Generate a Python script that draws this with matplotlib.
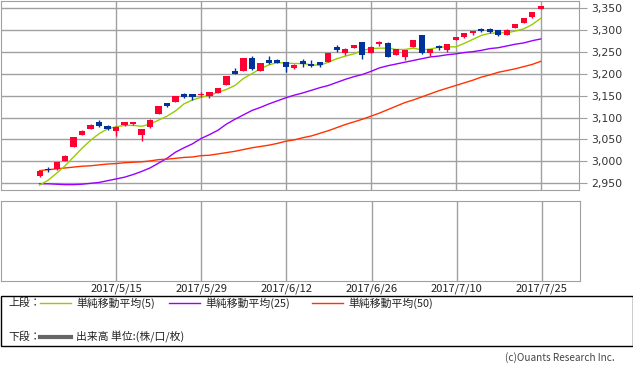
import matplotlib
matplotlib.use("Agg")
import matplotlib.pyplot as plt
from matplotlib.lines import Line2D
from matplotlib.patches import Rectangle
from matplotlib.ticker import FuncFormatter
import pandas as pd

plt.rcParams['font.family'] = ['Noto Sans CJK JP', 'DejaVu Sans']

# trading days (Japan holidays removed)
holidays = ['2017-05-03', '2017-05-04', '2017-05-05', '2017-07-17']
dates = pd.bdate_range('2017-04-27', '2017-07-25', freq='C', holidays=holidays)

opens = [2967, 2983, 2982, 3001, 3033, 3061, 3074, 3090, 3080, 3070,
         3082, 3085, 3059, 3079, 3108, 3132, 3136, 3153, 3153, 3151,
         3150, 3156, 3173, 3205, 3205, 3236, 3205, 3230, 3230, 3226,
         3213, 3228, 3223, 3226, 3226, 3261, 3248, 3258, 3271, 3246,
         3267, 3269, 3242, 3238, 3260, 3288, 3246, 3262, 3253, 3276,
         3283, 3292, 3301, 3301, 3300, 3288, 3303, 3315, 3329, 3347]
highs = [2979, 2987, 2999, 3014, 3055, 3071, 3085, 3094, 3083, 3080,
         3090, 3090, 3074, 3096, 3126, 3133, 3149, 3156, 3154, 3157,
         3158, 3168, 3194, 3213, 3235, 3239, 3224, 3239, 3234, 3226,
         3222, 3233, 3232, 3226, 3247, 3266, 3258, 3265, 3272, 3262,
         3275, 3271, 3255, 3253, 3276, 3288, 3255, 3266, 3268, 3284,
         3292, 3298, 3303, 3303, 3300, 3301, 3314, 3327, 3341, 3353]
lows = [2964, 2976, 2981, 3000, 3033, 3060, 3074, 3079, 3072, 3058,
        3081, 3082, 3047, 3076, 3108, 3124, 3135, 3145, 3139, 3147,
        3145, 3156, 3173, 3198, 3205, 3209, 3205, 3223, 3224, 3203,
        3210, 3215, 3215, 3215, 3226, 3250, 3243, 3258, 3233, 3246,
        3264, 3238, 3242, 3230, 3260, 3245, 3241, 3253, 3250, 3276,
        3281, 3289, 3294, 3292, 3286, 3288, 3303, 3315, 3326, 3347]
closes = [2978, 2980, 2998, 3013, 3055, 3069, 3084, 3081, 3074, 3079,
          3089, 3089, 3073, 3095, 3126, 3127, 3148, 3147, 3147, 3154,
          3158, 3168, 3194, 3200, 3235, 3211, 3224, 3224, 3225, 3214,
          3219, 3221, 3218, 3219, 3247, 3253, 3255, 3265, 3242, 3260,
          3273, 3238, 3255, 3253, 3276, 3247, 3255, 3259, 3267, 3283,
          3292, 3296, 3297, 3294, 3288, 3300, 3312, 3327, 3341, 3353]

ma5 = [2946, 2957, 2973, 2990, 3010, 3030, 3048, 3063, 3074, 3079,
       3082, 3082, 3080, 3085, 3094, 3103, 3115, 3131, 3140, 3146,
       3151, 3157, 3164, 3173, 3189, 3200, 3211, 3220, 3225, 3224,
       3223, 3223, 3220, 3219, 3226, 3234, 3240, 3245, 3253, 3257,
       3258, 3258, 3255, 3255, 3258, 3254, 3256, 3260, 3261, 3261,
       3269, 3278, 3287, 3292, 3293, 3293, 3297, 3302, 3312, 3326]
ma25 = [2949, 2949, 2948, 2947, 2947, 2948, 2950, 2952, 2956, 2960,
        2964, 2970, 2977, 2985, 2996, 3007, 3021, 3031, 3040, 3052,
        3061, 3071, 3085, 3096, 3106, 3116, 3123, 3131, 3138, 3145,
        3151, 3156, 3162, 3168, 3173, 3180, 3187, 3193, 3198, 3205,
        3213, 3218, 3222, 3226, 3230, 3234, 3238, 3240, 3243, 3245,
        3248, 3250, 3253, 3257, 3259, 3263, 3267, 3270, 3275, 3279]
ma50 = [2979, 2981, 2983, 2985, 2987, 2989, 2990, 2992, 2994, 2995,
        2997, 2998, 2999, 3001, 3004, 3005, 3007, 3009, 3010, 3013,
        3014, 3017, 3020, 3023, 3027, 3031, 3034, 3037, 3041, 3046,
        3049, 3054, 3058, 3064, 3070, 3077, 3084, 3090, 3096, 3103,
        3110, 3118, 3126, 3134, 3140, 3147, 3154, 3161, 3167, 3173,
        3179, 3185, 3192, 3197, 3203, 3207, 3211, 3216, 3221, 3228]

tick_dates = ['2017-05-15', '2017-05-29', '2017-06-12', '2017-06-26', '2017-07-10', '2017-07-25']

W, H = 633, 370
fig = plt.figure(figsize=(W / 100, H / 100), dpi=100)
fig.patch.set_facecolor('white')


def box(x0, y0, x1, y1):
    # pixel box (top-left origin) -> figure fraction
    return [x0 / W, 1 - y1 / H, (x1 - x0) / W, (y1 - y0) / H]


GRID = '#a0a0a0'
UP, DOWN = '#ff0033', '#003399'
x = list(range(len(dates)))
xlim = (-4.6, 63.5)
tick_pos = [list(dates.strftime('%Y-%m-%d')).index(d) for d in tick_dates]
tick_lbl = [f"{pd.Timestamp(d).year}/{pd.Timestamp(d).month}/{pd.Timestamp(d).day}" for d in tick_dates]

# ---- upper panel: candles + moving averages
ax = fig.add_axes(box(0.5, 0.5, 579, 190))
ax.set_xlim(*xlim)
ax.set_ylim(2934.8, 3366.6)
for s in ax.spines.values():
    s.set_color(GRID)
ax.set_yticks(range(2950, 3351, 50))
ax.yaxis.set_major_formatter(FuncFormatter(lambda v, p: f"{int(v):,}"))
ax.yaxis.tick_right()
ax.tick_params(axis='y', colors=GRID, length=6, labelcolor='#333333', labelsize=7.8, pad=3)
for lab in ax.get_yticklabels():
    lab.set_family('DejaVu Sans')
ax.set_xticks(tick_pos)
ax.tick_params(axis='x', length=0, labelbottom=False)
ax.grid(True, color=GRID, lw=1)
ax.set_axisbelow(True)

ax.plot(x, ma25, color='#9900ff', lw=1, zorder=2)
ax.plot(x, ma50, color='#ff3300', lw=1, zorder=2)
ax.plot(x, ma5, color='#99cc00', lw=1, zorder=2)

for i in x:
    o, h, l, c = opens[i], highs[i], lows[i], closes[i]
    col = UP if c >= o else DOWN
    ax.vlines(i, l, h, color=col, lw=1, zorder=3)
    ax.bar(i, max(abs(c - o), 1.5), bottom=min(o, c), width=0.72, color=col, lw=0, zorder=3)

# ---- lower panel: volume (empty)
ax2 = fig.add_axes(box(0.5, 201, 580, 281))
ax2.set_xlim(*xlim)
for s in ax2.spines.values():
    s.set_color(GRID)
ax2.set_yticks([])
ax2.set_xticks(tick_pos)
ax2.set_xticklabels(tick_lbl, fontsize=8, color='#222222')
ax2.tick_params(axis='x', length=0, pad=2)
ax2.grid(True, axis='x', color=GRID, lw=1)

# ---- legend box
fig.patches.append(Rectangle((0.5 / W, 1 - 345.5 / H), 632 / W, 50 / H, transform=fig.transFigure,
                             fill=False, edgecolor='black', lw=1))


def fx(px):
    return px / W


def fy(py):
    return 1 - py / H


fs = 7.8
fig.text(fx(8), fy(303), '上段：', fontsize=fs, va='center', color='#222222')
entries = [(40, '#99cc00', '単純移動平均(5)'),
           (169, '#9900ff', '単純移動平均(25)'),
           (312, '#ff3300', '単純移動平均(50)')]
for lx, col, txt in entries:
    fig.add_artist(Line2D([fx(lx), fx(lx + 31)], [fy(303), fy(303)], color=col, lw=1))
    fig.text(fx(lx + 36), fy(303), txt, fontsize=fs, va='center', color='#222222')
fig.text(fx(8), fy(337), '下段：', fontsize=fs, va='center', color='#222222')
fig.add_artist(Line2D([fx(40), fx(71)], [fy(337), fy(337)], color='#666666', lw=3))
fig.text(fx(76), fy(337), '出来高 単位:(株/口/枚)', fontsize=fs, va='center', color='#222222')

fig.text(fx(615), fy(358), '(c)Ouants Research Inc.', fontsize=7.2, ha='right', va='center', color='#444444')

fig.savefig('out.png', dpi=100)
